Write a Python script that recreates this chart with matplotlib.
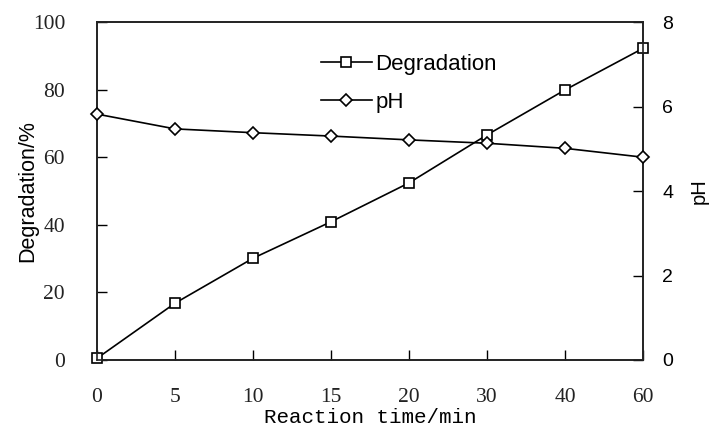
import matplotlib
matplotlib.use("Agg")
import matplotlib.pyplot as plt
import numpy as np

times = ["0", "5", "10", "15", "20", "30", "40", "60"]
degradation = [0.5, 16.8, 30.1, 40.9, 52.4, 66.6, 79.9, 92.2]
ph = [5.82, 5.47, 5.38, 5.30, 5.21, 5.13, 5.01, 4.80]
left_ticks = [0, 20, 40, 60, 80, 100]
right_ticks = [0, 2, 4, 6, 8]

fig = plt.figure(figsize=(7.1, 4.3), dpi=100)
ax = fig.add_axes([97/710, 1-360/430, 546/710, 338/430])
ax2 = ax.twinx()

x = np.arange(len(times))
serif = "Liberation Serif"
sans = "Liberation Sans"
mono = "Liberation Mono"

l1, = ax.plot(x, degradation, color="black", lw=1.2, marker="s", markersize=7,
              markerfacecolor="white", markeredgecolor="black", markeredgewidth=1.2,
              label="Degradation", clip_on=False, zorder=3)
l2, = ax2.plot(x, ph, color="black", lw=1.2, marker="D", markersize=6.5,
               markerfacecolor="white", markeredgecolor="black", markeredgewidth=1.2,
               label="pH", clip_on=False, zorder=3)

ax.set_xlim(0, len(times) - 1)
ax.set_ylim(0, 100)
ax2.set_ylim(0, 8)
ax.set_xticks(x)
ax.set_xticklabels(times, fontfamily=serif, fontsize=15.5, color="#222222")
ax.set_yticks(left_ticks)
ax.set_yticklabels([str(v) for v in left_ticks], fontfamily=serif, fontsize=15.5, color="#222222")
ax2.set_yticks(right_ticks)
ax2.set_yticklabels([str(v) for v in right_ticks], fontfamily=sans, fontsize=14)

ax.tick_params(axis="x", direction="in", length=7, width=1, pad=20)
ax.tick_params(axis="y", direction="in", length=7, width=1, pad=23)
ax2.tick_params(axis="y", direction="in", length=7, width=1, pad=14)
for a in (ax, ax2):
    for s in a.spines.values():
        s.set_linewidth(1.2)
        s.set_color("#222222")

ax.set_xlabel("Reaction time/min", fontfamily=mono, fontsize=15, labelpad=1)
ax.set_ylabel("Degradation/%", fontfamily=sans, fontsize=15.5, labelpad=-4)
ax2.set_ylabel("pH", fontfamily=sans, fontsize=14.5, labelpad=12)

leg = ax.legend(handles=[l1, l2], loc="upper left", bbox_to_anchor=(0.41, 0.905),
                frameon=False, prop={"family": sans, "size": 16}, handlelength=2.3,
                handletextpad=0.15, labelspacing=0.75, borderpad=0, borderaxespad=0)

fig.savefig("out.png", dpi=100)
